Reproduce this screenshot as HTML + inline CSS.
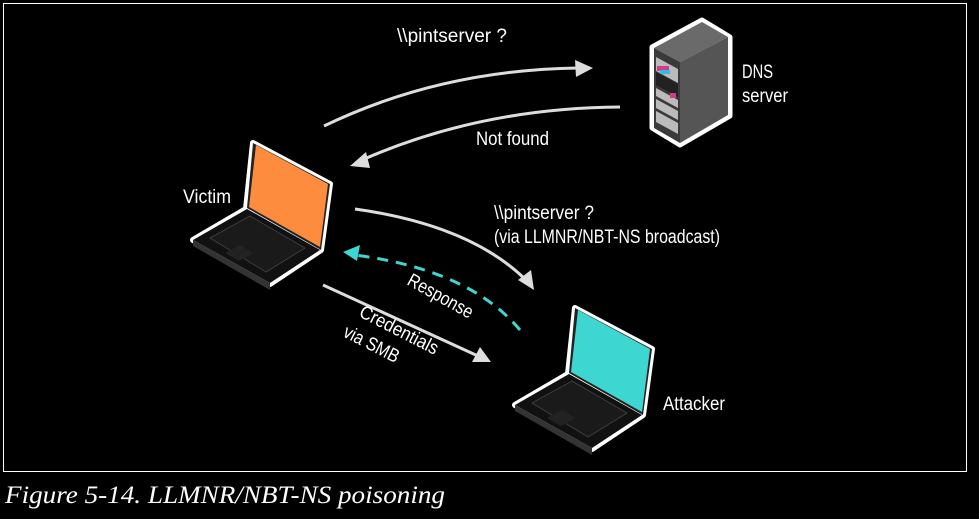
<!DOCTYPE html>
<html><head><meta charset="utf-8"><style>
html,body{margin:0;padding:0;background:#000;width:979px;height:519px;overflow:hidden}
svg{display:block}
.t{font-family:"Liberation Sans Narrow","Liberation Sans",sans-serif;fill:#fff;font-size:19px}
</style></head><body>
<svg width="979" height="519" viewBox="0 0 979 519" xmlns="http://www.w3.org/2000/svg">
<rect x="3.5" y="3.5" width="963" height="468" fill="#000" stroke="#fff" stroke-width="1"/>
<text x="5" y="503" font-family="'Liberation Serif',serif" font-style="italic" font-size="25" fill="#fff" textLength="440" lengthAdjust="spacingAndGlyphs">Figure 5-14. LLMNR/NBT-NS poisoning</text>

<!-- DNS server -->
<g stroke-linejoin="round">
<polygon points="702,20 652,47 652,128 680,145 730,116 730,37" fill="#fff" stroke="#fff" stroke-width="5"/>
<polygon points="702,22 654,48 680,62 728,37" fill="#6a6a6a"/>
<polygon points="654,48 680,62 680,143 654,128" fill="#3a3a3a"/>
<polygon points="680,62 728,37 728,115 680,143" fill="#555"/>
<g fill="#bbb">
<polygon points="656,57 678,69 678,83 656,71"/>
<polygon points="656,88 678,100 678,108 656,96"/>
<polygon points="656,99 678,111 678,120 656,108"/>
<polygon points="656,111 678,123 678,134 656,122"/>
</g>
<polygon points="656,72 678,84 678,97 656,85" fill="#222"/>
<rect x="657" y="66" width="12" height="5" fill="#d43a8a"/>
<rect x="660" y="70" width="10" height="4" fill="#3bd"/>
<rect x="670" y="93" width="6" height="5" fill="#d43a8a"/>
</g>
<text class="t" x="742" y="78" textLength="31" lengthAdjust="spacingAndGlyphs">DNS</text>
<text class="t" x="742" y="102" textLength="46" lengthAdjust="spacingAndGlyphs">server</text>

<!-- laptops -->
<defs>
<g id="lap">
<polygon points="253,143 330,184 321,250 270,284 193,240 246,209" fill="#fff" stroke="#fff" stroke-width="6" stroke-linejoin="round"/>
<polygon points="247,209 193,240 270,283 320,250" fill="#111"/>
<polygon points="193,240 270,283 270,290 193,246" fill="#333"/>
<polygon points="210,238 250,216 305,248 266,272" fill="#1a1a1a" stroke="#444" stroke-width="0.8"/>
<polygon points="225,253 240,245 254,253 239,261" fill="#222"/>
<polygon points="253,143 330,184 321,250 247,208" fill="#222"/>
</g>
</defs>
<use href="#lap"/>
<polygon points="256,145 328,184 320,247 249,207" fill="#fd8c3f"/>
<use href="#lap" transform="translate(322,165)"/>
<polygon points="578,310 650,349 642,412 571,372" fill="#3ed6d0"/>
<text class="t" x="183" y="203" textLength="48" lengthAdjust="spacingAndGlyphs">Victim</text>
<text class="t" x="663" y="410" textLength="62" lengthAdjust="spacingAndGlyphs">Attacker</text>

<!-- arrows -->
<g fill="none" stroke="#ddd" stroke-width="3">
<path d="M324,126 Q440,70 578,68"/>
<path d="M620,107 Q480,108 362,160"/>
<path d="M355,209 Q470,225 526,280"/>
<path d="M323,285 L478,356"/>
<path d="M520,330 Q470,270 355,255" stroke="#3ed6d0" stroke-dasharray="11,8"/>
</g>
<g fill="#ddd">
<polygon points="593,68 575,60 576,77"/>
<polygon points="350,166 366,152 370,168"/>
<polygon points="534,290 518,280 531,270"/>
<polygon points="491,362 472,362 480,347"/>
<polygon points="343,252 360,245 357,261" fill="#3ed6d0"/>
</g>
<text class="t" x="397" y="42" textLength="110" lengthAdjust="spacingAndGlyphs">\\pintserver ?</text>
<text class="t" x="476" y="145" textLength="73" lengthAdjust="spacingAndGlyphs">Not found</text>
<text class="t" x="494" y="219" textLength="100" lengthAdjust="spacingAndGlyphs">\\pintserver ?</text>
<text class="t" x="494" y="243" textLength="226" lengthAdjust="spacingAndGlyphs">(via LLMNR/NBT-NS broadcast)</text>
<text class="t" transform="translate(406,284) rotate(29)" textLength="72" lengthAdjust="spacingAndGlyphs">Response</text>
<text class="t" transform="translate(358,316) rotate(27)" textLength="86" lengthAdjust="spacingAndGlyphs">Credentials</text>
<text class="t" transform="translate(342,336) rotate(27)" textLength="60" lengthAdjust="spacingAndGlyphs">via SMB</text>
</svg>
</body></html>
